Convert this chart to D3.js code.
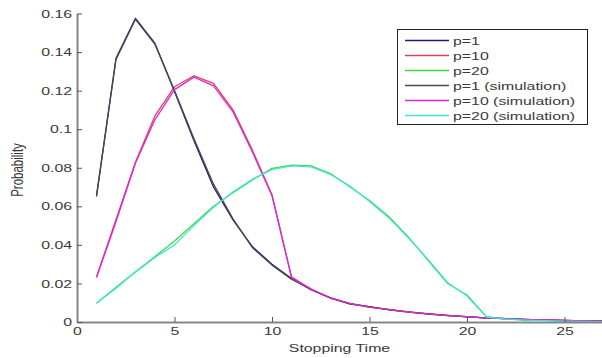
<!DOCTYPE html>
<html>
<head>
<meta charset="utf-8">
<script src="https://cdn.jsdelivr.net/npm/d3@7"></script>
<style>
  body { margin: 0; background: #fff; }
  svg { display: block; font-family: "Liberation Sans", Arial, sans-serif; }
</style>
</head>
<body>
<svg id="chart" width="602" height="358"></svg>
<script>
// stopping time steps
const steps = d3.range(1, 28);

const p1 = [0.0655, 0.1368, 0.1575, 0.1445, 0.1195, 0.094, 0.070, 0.053, 0.039, 0.030, 0.0225, 0.0168, 0.0125, 0.0095, 0.0078, 0.0064, 0.0052, 0.0042, 0.0034, 0.0027, 0.0021, 0.0017, 0.0013, 0.0010, 0.0008, 0.0006, 0.0005];
const p10 = [0.0235, 0.053, 0.083, 0.107, 0.122, 0.1277, 0.1238, 0.110, 0.089, 0.066, 0.0235, 0.0168, 0.0125, 0.0095, 0.0078, 0.0064, 0.0052, 0.0042, 0.0034, 0.0027, 0.0021, 0.0017, 0.0013, 0.0010, 0.0008, 0.0006, 0.0005];
const p20 = [0.0097, 0.018, 0.026, 0.034, 0.042, 0.051, 0.060, 0.067, 0.0737, 0.0797, 0.0814, 0.081, 0.077, 0.070, 0.063, 0.0546, 0.044, 0.032, 0.020, 0.014, 0.0028, 0.0015, 0.0010, 0.0008, 0.0005, 0.0003, 0.0002];
const p1Sim = [0.0650, 0.1362, 0.1570, 0.1440, 0.1200, 0.0950, 0.0715, 0.0535, 0.0385, 0.0295, 0.0222, 0.0170, 0.0124, 0.0093, 0.0080, 0.0063, 0.0051, 0.0041, 0.0033, 0.0028, 0.0020, 0.0018, 0.0012, 0.0011, 0.0007, 0.0006, 0.0004];
const p10Sim = [0.023, 0.052, 0.0825, 0.105, 0.1205, 0.127, 0.1225, 0.109, 0.088, 0.0655, 0.023, 0.0172, 0.0123, 0.0097, 0.0076, 0.0065, 0.0051, 0.0043, 0.0033, 0.0028, 0.0020, 0.0018, 0.0012, 0.0011, 0.0008, 0.0006, 0.0004];
const p20Sim = [0.0097, 0.0175, 0.026, 0.0335, 0.040, 0.050, 0.0595, 0.0675, 0.074, 0.079, 0.081, 0.0805, 0.0765, 0.0705, 0.0625, 0.054, 0.0435, 0.0325, 0.0205, 0.0135, 0.0025, 0.0015, 0.0010, 0.0007, 0.0005, 0.0003, 0.0002];

const seriesNames = ["p=1", "p=10", "p=20", "p=1 (simulation)", "p=10 (simulation)", "p=20 (simulation)"];
const seriesValues = [p1, p10, p20, p1Sim, p10Sim, p20Sim];
const seriesColors = ["#1c1c80", "#e0405a", "#3ddc3d", "#4a4a4a", "#d82ad8", "#45e3e0"];

const xTicks = [0, 5, 10, 15, 20, 25];
const yTicks = [0, 0.02, 0.04, 0.06, 0.08, 0.1, 0.12, 0.14, 0.16];

const svg = d3.select("#chart");
const plotLeft = 77, plotBottom = 322, plotTop = 13.5, plotRight = 603.5;
const fontSize = "11.5px";
const textColor = "#3a3a3a";
// the source picture is stretched sideways, so text is too
const stretch = "scale(1.38,1)";

const x = d3.scaleLinear().domain([0, 27]).range([plotLeft, plotRight]);
const y = d3.scaleLinear().domain([0, 0.16]).range([plotBottom, plotTop]);

const line = d3.line()
  .x((d, i) => x(steps[i]))
  .y(d => y(d));

// curves
svg.append("g")
  .selectAll("path")
  .data(seriesValues)
  .join("path")
  .attr("fill", "none")
  .attr("stroke", (d, i) => seriesColors[i])
  .attr("stroke-width", 1.3)
  .attr("stroke-linejoin", "round")
  .attr("d", line);

// axes, matlab style ticks pointing inward
const xAxis = svg.append("g")
  .attr("transform", "translate(0," + plotBottom + ")")
  .call(d3.axisBottom(x).tickValues(xTicks).tickSize(-5).tickPadding(5).tickSizeOuter(0));

const yAxis = svg.append("g")
  .attr("transform", "translate(" + plotLeft + ",0)")
  .call(d3.axisLeft(y).tickValues(yTicks).tickFormat(d3.format("~g")).tickSize(-5).tickPadding(3.6).tickSizeOuter(0));

[xAxis, yAxis].forEach(a => {
  a.select(".domain").attr("stroke", "#858585").attr("stroke-width", 2);
  a.selectAll(".tick line").attr("stroke", "#555").attr("stroke-width", 1);
  a.selectAll(".tick text")
    .attr("fill", textColor)
    .attr("transform", stretch)
    .style("font-size", fontSize);
});

// axis titles
svg.append("text")
  .attr("transform", "translate(339.5,351.5) " + stretch)
  .attr("text-anchor", "middle")
  .attr("fill", textColor)
  .style("font-size", fontSize)
  .text("Stopping Time");

svg.append("text")
  .attr("transform", "translate(22.5,170) " + stretch + " rotate(-90)")
  .attr("text-anchor", "middle")
  .attr("fill", textColor)
  .style("font-size", fontSize)
  .text("Probability");

// legend
const legend = svg.append("g");
legend.append("rect")
  .attr("x", 397.5)
  .attr("y", 29.5)
  .attr("width", 190)
  .attr("height", 95)
  .attr("fill", "#fff")
  .attr("stroke", "#222")
  .attr("stroke-width", 1);

const rows = legend.selectAll("g.row")
  .data(seriesNames)
  .join("g")
  .attr("class", "row")
  .attr("transform", (d, i) => "translate(0," + (40.5 + i * 15) + ")");

rows.append("line")
  .attr("x1", 405).attr("x2", 449)
  .attr("stroke", (d, i) => seriesColors[i])
  .attr("stroke-width", 1.3);

rows.append("text")
  .attr("transform", "translate(453,0) " + stretch)
  .attr("dy", "0.35em")
  .attr("fill", textColor)
  .style("font-size", fontSize)
  .text(d => d);
</script>
</body>
</html>
